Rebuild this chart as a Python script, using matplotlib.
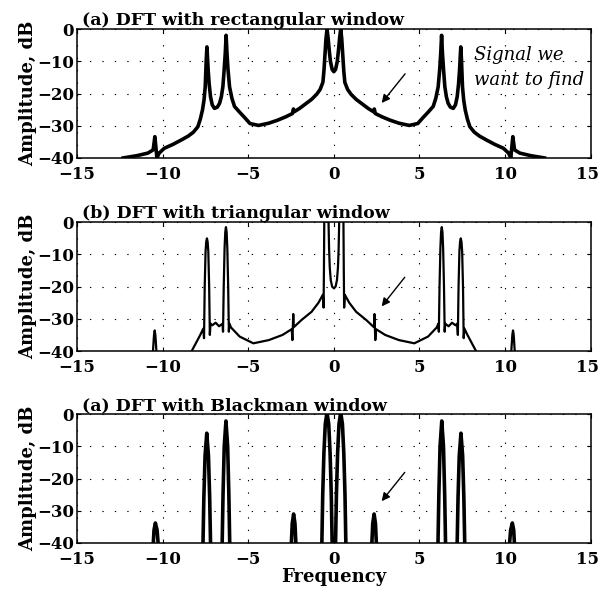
import numpy as np
import matplotlib.pyplot as plt
from matplotlib.transforms import ScaledTranslation

plt.rcParams['font.family'] = ['DejaVu Serif']
plt.rcParams['font.weight'] = 'bold'
plt.rcParams['axes.labelweight'] = 'bold'

# positive-frequency half of each spectrum (freq, dB); spectra are symmetric
rect_f = [0.0, 0.1, 0.2, 0.28, 0.34, 0.4, 0.46, 0.52, 0.58, 0.64, 0.8, 1.0, 1.3, 1.6, 2.0,
          2.3, 2.36, 2.42, 2.8, 3.3, 3.8, 4.4, 4.9, 5.2, 5.5, 5.8, 5.95, 6.09, 6.18, 6.24,
          6.29, 6.34, 6.41, 6.48, 6.57, 6.67, 6.8, 6.97, 7.1, 7.2, 7.28, 7.34, 7.38, 7.41,
          7.45, 7.51, 7.58, 7.67, 7.8, 7.94, 8.2, 8.5, 8.9, 9.4, 9.9, 10.2, 10.33,
          10.45, 10.55, 10.86, 11.5, 12.3]
rect_db = [-13.2, -12.5, -10.0, -6.0, -2.5, 0.0, -3.0, -8.0, -13.0, -16.5, -18.7, -20.2,
           -21.8, -23.0, -24.6, -25.6, -24.8, -26.2, -27.2, -28.3, -29.2, -29.9, -29.3, -27.5,
           -25.8, -24.0, -21.5, -17.9, -12.5, -7.5, -1.9, -7.5, -13.0, -17.9, -21.0, -23.0,
           -24.2, -24.6, -23.5, -21.0, -17.0, -12.5, -8.5, -5.5, -9.5, -17.9, -22.0, -25.1,
           -28.0, -30.3, -32.0, -33.2, -34.4, -35.8, -37.0, -38.5, -40.0, -33.4, -37.5,
           -38.5, -39.3, -40.0]

tri_f = [0.0, 0.1, 0.18, 0.24, 0.28, 0.31, 0.45, 0.56, 0.58, 0.6, 0.64, 0.9, 1.3, 1.9,
         2.34, 2.37, 2.42, 2.46, 3.0, 3.8, 4.7, 5.5, 6.0, 6.1, 6.13, 6.17, 6.22, 6.26, 6.3,
         6.34, 6.38, 6.43, 6.47, 6.5, 6.7, 6.9, 7.1, 7.2, 7.24, 7.28, 7.33, 7.37, 7.41, 7.45,
         7.49, 7.54, 7.58, 7.62, 7.8, 8.0, 8.3, 8.6, 10.3, 10.36, 10.42, 10.46, 10.5, 10.56,
         10.62, 12.0]
tri_db = [-20.5, -20.0, -18.0, -14.0, -8.0, 0.0, 3.0, 0.0, -15.0, -26.5, -22.5, -25.0, -27.8,
          -30.4, -32.6, -28.5, -36.6, -33.2, -35.0, -36.6, -37.6, -35.5, -32.7, -31.5, -34.0,
          -20.0, -8.0, -3.0, -1.5, -3.0, -8.0, -20.0, -34.0, -31.5, -32.3, -31.2, -32.0,
          -31.5, -35.0, -20.0, -9.0, -6.0, -5.0, -6.0, -9.0, -20.0, -36.0, -33.0, -35.0,
          -37.0, -40.0, -45.0, -45.0, -40.0, -35.0, -33.6, -35.0, -40.0, -45.0, -45.0]

black_f = [0.0, 0.08, 0.1, 0.15, 0.22, 0.3, 0.4, 0.5, 0.58, 0.65, 0.7, 0.72,
           2.2, 2.22, 2.27, 2.35, 2.43, 2.48, 2.5,
           6.06, 6.08, 6.13, 6.2, 6.3, 6.4, 6.47, 6.52, 6.54,
           7.18, 7.2, 7.25, 7.32, 7.42, 7.52, 7.59, 7.64, 7.66,
           10.24, 10.26, 10.32, 10.42, 10.5, 10.54, 10.56, 12.0]
black_db = [-45.0, -45.0, -40.0, -25.0, -12.0, -3.0, 0.5, -3.0, -12.0, -25.0, -40.0, -45.0,
            -45.0, -40.0, -34.0, -31.0, -34.0, -40.0, -45.0,
            -45.0, -40.0, -25.0, -10.0, -2.1, -10.0, -25.0, -40.0, -45.0,
            -45.0, -40.0, -26.0, -13.0, -5.9, -13.0, -26.0, -40.0, -45.0,
            -45.0, -40.0, -36.0, -33.8, -36.0, -40.0, -45.0, -45.0]

titles = ['(a) DFT with rectangular window',
          '(b) DFT with triangular window',
          '(a) DFT with Blackman window']
# arrow (tail, head) in data units for each panel
arrows = [((4.26, -13.2), (2.69, -23.6)),
          ((4.24, -16.4), (2.69, -26.8)),
          ((4.24, -17.4), (2.69, -27.7))]


def full(f, db):
    f = np.asarray(f)
    db = np.asarray(db)
    return np.concatenate([-f[::-1], f[1:]]), np.concatenate([db[::-1], db[1:]])


series = [full(rect_f, rect_db), full(tri_f, tri_db), full(black_f, black_db)]
widths = [2.6, 1.6, 2.6]
bottoms = [0.735, 0.411, 0.089]

fig = plt.figure(figsize=(6.01, 5.96), dpi=100)
for i in range(3):
    ax = fig.add_axes([0.128, bottoms[i], 0.855, 0.216])
    x, y = series[i]
    ax.plot(x, y, color='black', lw=widths[i])
    ax.set_xlim(-15, 15)
    ax.set_ylim(-40, 0)
    ax.set_xticks(np.arange(-15, 16, 5))
    ax.set_yticks(np.arange(-40, 1, 10))
    ax.grid(True, color='black', lw=0.8, linestyle=(0, (1.2, 10)))
    ax.tick_params(direction='in', length=3, labelsize=12, top=True, right=True)
    ax.tick_params(axis='x', pad=6)
    ax.tick_params(axis='y', pad=2)
    # keep the last x label inside the figure
    last = ax.get_xticklabels()[-1]
    last.set_transform(last.get_transform() + ScaledTranslation(-3 / 100, 0, fig.dpi_scale_trans))
    for s in ax.spines.values():
        s.set_linewidth(1.1)
    ax.set_ylabel('Amplitude, dB', fontsize=13, labelpad=0)
    ax.text(0.01, 1.0, titles[i], transform=ax.transAxes, fontsize=12.5,
            ha='left', va='bottom')
    (tx, ty), (hx, hy) = arrows[i]
    ax.annotate('', xy=(hx, hy), xytext=(tx, ty),
                arrowprops=dict(arrowstyle='-|>', color='black', lw=1.0,
                                mutation_scale=12))
    if i == 0:
        ax.text(8.2, -8.0, 'Signal we', fontsize=13, style='italic', fontweight='normal',
                ha='left', va='center')
        ax.text(8.2, -15.8, 'want to find', fontsize=13, style='italic', fontweight='normal',
                ha='left', va='center')
    if i == 2:
        ax.set_xlabel('Frequency', fontsize=13, labelpad=0)

fig.savefig('out.png', dpi=100)
